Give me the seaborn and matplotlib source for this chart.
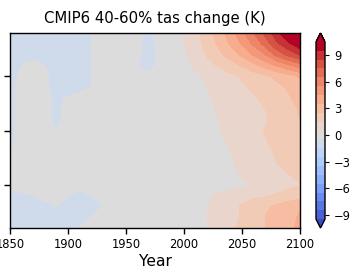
import numpy as np
import matplotlib
matplotlib.use("Agg")
import matplotlib.pyplot as plt
import seaborn as sns

# === data ===
lats = [90, 80, 70, 60, 50, 40, 30, 20, 10, 0, -10, -20, -30, -40, -50, -60, -70, -80, -90]

hist_years = [1850, 1870, 1890, 1910, 1930, 1950, 1970, 1990]
hist_change = [
    [-0.6, -0.6, -0.6, -0.6, -0.4, -0.3, -0.55, -0.2],
    [-0.6, -0.6, -0.6, -0.6, -0.4, -0.3, -0.6, -0.2],
    [-0.6, -0.6, -0.6, -0.6, -0.4, -0.3, -0.6, -0.2],
    [-0.6, -0.4, -0.6, -0.6, -0.4, -0.4, -0.6, -0.2],
    [-0.6, -0.3, -0.6, -0.6, -0.4, -0.3, -0.45, -0.2],
    [-0.55, -0.3, -0.6, -0.6, -0.4, -0.3, -0.3, -0.2],
    [-0.55, -0.3, -0.55, -0.4, -0.3, -0.2, -0.2, -0.1],
    [-0.55, -0.3, -0.55, -0.3, -0.3, -0.2, -0.2, -0.1],
    [-0.55, -0.3, -0.55, -0.3, -0.2, -0.2, -0.2, -0.1],
    [-0.55, -0.3, -0.5, -0.3, -0.2, -0.2, -0.2, -0.1],
    [-0.55, -0.3, -0.4, -0.3, -0.2, -0.2, -0.2, -0.1],
    [-0.5, -0.3, -0.3, -0.3, -0.2, -0.2, -0.2, -0.1],
    [-0.4, -0.3, -0.3, -0.3, -0.2, -0.2, -0.2, -0.1],
    [-0.3, -0.3, -0.3, -0.3, -0.2, -0.2, -0.2, -0.1],
    [-0.4, -0.3, -0.3, -0.4, -0.3, -0.2, -0.2, -0.1],
    [-0.6, -0.5, -0.4, -0.6, -0.4, -0.2, -0.4, -0.1],
    [-0.6, -0.6, -0.5, -0.6, -0.5, -0.2, -0.5, -0.1],
    [-0.6, -0.6, -0.6, -0.6, -0.4, -0.2, -0.3, -0.1],
    [-0.6, -0.6, -0.55, -0.5, -0.4, -0.2, -0.3, -0.1],
]

scen_years = [2000, 2010, 2020, 2030, 2040, 2050, 2060, 2070, 2080, 2090, 2100]
scen_change = [
    [0.6, 1.2, 2.0, 3.0, 4.0, 5.2, 6.5, 7.8, 9.2, 10.3, 11.0],
    [0.5, 1.1, 1.9, 2.7, 3.6, 4.6, 5.7, 6.9, 8.3, 9.3, 10.2],
    [0.3, 1.0, 1.6, 2.2, 3.0, 3.7, 4.6, 5.5, 6.8, 7.8, 8.6],
    [0.2, 0.7, 1.2, 1.6, 2.0, 2.6, 3.2, 3.9, 4.6, 5.3, 6.0],
    [0.1, 0.3, 0.7, 1.0, 1.3, 1.6, 2.0, 2.3, 2.7, 3.1, 3.6],
    [0.0, 0.2, 0.5, 0.9, 1.2, 1.4, 1.6, 1.9, 2.3, 2.6, 3.0],
    [-0.1, 0.1, 0.4, 0.7, 1.0, 1.3, 1.45, 1.6, 2.0, 2.4, 2.8],
    [-0.1, 0.0, 0.3, 0.6, 0.9, 1.1, 1.3, 1.5, 1.9, 2.2, 2.6],
    [-0.1, 0.0, 0.2, 0.5, 0.8, 1.0, 1.2, 1.4, 1.8, 2.1, 2.5],
    [-0.1, 0.0, 0.2, 0.45, 0.7, 1.0, 1.2, 1.55, 1.8, 2.1, 2.4],
    [-0.1, 0.0, 0.1, 0.3, 0.6, 0.9, 1.2, 1.45, 1.7, 2.0, 2.3],
    [-0.1, 0.0, 0.0, 0.2, 0.5, 0.8, 1.1, 1.3, 1.6, 1.9, 2.1],
    [-0.1, 0.0, 0.0, 0.1, 0.4, 0.7, 1.0, 1.2, 1.5, 1.8, 2.0],
    [-0.1, 0.0, 0.0, 0.0, 0.3, 0.6, 0.9, 1.1, 1.3, 1.5, 1.8],
    [-0.1, 0.0, 0.0, 0.0, 0.1, 0.35, 0.6, 0.9, 1.1, 1.3, 1.45],
    [-0.1, 0.1, 0.4, 0.7, 0.9, 1.1, 1.3, 1.4, 1.6, 1.8, 2.0],
    [0.0, 0.2, 0.45, 0.8, 1.2, 1.6, 2.0, 2.3, 2.7, 3.1, 3.4],
    [0.0, 0.2, 0.5, 0.8, 1.2, 1.6, 2.1, 2.5, 2.8, 3.2, 3.6],
    [0.0, 0.3, 0.5, 0.9, 1.3, 1.7, 2.1, 2.5, 2.9, 3.3, 3.7],
]

cbar_ticks = [-9, -6, -3, 0, 3, 6, 9]

# === build the field ===
years = np.array(hist_years + scen_years)
field = np.hstack([np.array(hist_change), np.array(scen_change)])
levels = np.arange(-9.5, 11, 1.0)

sns.set_style("ticks", rc={"text.color": "black", "axes.labelcolor": "black",
                           "xtick.color": "black", "ytick.color": "black",
                           "axes.edgecolor": "black"})
cmap = sns.color_palette("coolwarm", as_cmap=True)

fig = plt.figure(figsize=(3.53, 2.75), dpi=100)
ax = fig.add_axes([10 / 353, 47 / 275, 290 / 353, 195 / 275])
cax = fig.add_axes([316 / 353, 47 / 275, 9 / 353, 195 / 275])

cf = ax.contourf(years, lats, field, levels=levels, cmap=cmap,
                 vmin=-10, vmax=10, extend="both")
ax.set_xlim(1850, 2100)
ax.set_ylim(-90, 90)
ax.set_xticks([1850, 1900, 1950, 2000, 2050, 2100])
ax.set_yticks([-50, 0, 50])
ax.set_yticklabels([])
ax.tick_params(labelsize=8.3, length=4, width=1)
ax.grid(True, color="#b0b0b0", linewidth=1)
for s in ax.spines.values():
    s.set_linewidth(1)
ax.set_title("CMIP6 40-60% tas change (K)", fontsize=10.7, pad=7)
ax.set_xlabel("Year", fontsize=11.2, labelpad=2)

cb = fig.colorbar(cf, cax=cax, ticks=cbar_ticks)
cb.ax.tick_params(labelsize=8.3, length=3)
cb.outline.set_linewidth(1)

fig.savefig("out.png", dpi=100)
